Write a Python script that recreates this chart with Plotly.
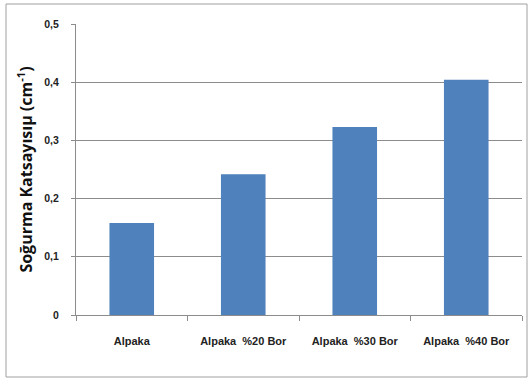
import plotly.graph_objects as go

categories = ["Alpaka", "Alpaka  %20 Bor", "Alpaka  %30 Bor", "Alpaka  %40 Bor"]
values = [0.158, 0.242, 0.323, 0.404]
y_ticks = [0, 0.1, 0.2, 0.3, 0.4, 0.5]
y_labels = ["0", "0,1", "0,2", "0,3", "0,4", "0,5"]

W, H = 529, 381
ml, mr, mt, mb = 76, 7, 24, 66
pw, ph = W - ml - mr, H - mt - mb

font_fam = "Liberation Sans, Arial"

fig = go.Figure(go.Bar(
    x=categories, y=values,
    marker=dict(color="#4F81BD", line=dict(width=0)),
))

def px2paper_x(px):
    return (px - ml) / pw

def px2paper_y(py):
    return (H - mb - py) / ph

fig.update_layout(
    width=W, height=H,
    margin=dict(l=ml, r=mr, t=mt, b=mb),
    paper_bgcolor="white", plot_bgcolor="white",
    bargap=0.6,
    showlegend=False,
    font=dict(family=font_fam, color="#000000"),
    xaxis=dict(
        showgrid=False, showline=True, linecolor="#8c8c8c", linewidth=1,
        ticks="outside", ticklen=5, tickcolor="#8c8c8c",
        tickson="boundaries",
        tickfont=dict(size=11, family=font_fam, color="#222", weight="bold"),
        ticklabelstandoff=16,
    ),
    yaxis=dict(
        range=[0, 0.5], tickvals=y_ticks, ticktext=y_labels,
        showgrid=True, gridcolor="#8c8c8c", gridwidth=1,
        showline=True, linecolor="#8c8c8c", linewidth=1,
        ticks="outside", ticklen=4, tickcolor="#8c8c8c",
        tickfont=dict(size=10.5, family=font_fam, color="#222", weight="bold"),
        ticklabelstandoff=10,
        zeroline=False,
        title=dict(text="Soğurma Katsayısıμ (cm<sup>-1</sup>)",
                   font=dict(size=16, family="Open Sans, Liberation Sans", color="#111", weight="bold"),
                   standoff=7),
    ),
    shapes=[dict(
        type="rect", xref="paper", yref="paper",
        x0=px2paper_x(6), x1=px2paper_x(527),
        y0=px2paper_y(377), y1=px2paper_y(4),
        line=dict(color="#a0a0a0", width=1), fillcolor="rgba(0,0,0,0)",
        layer="below",
    )],
)

fig.write_html("out.html")
